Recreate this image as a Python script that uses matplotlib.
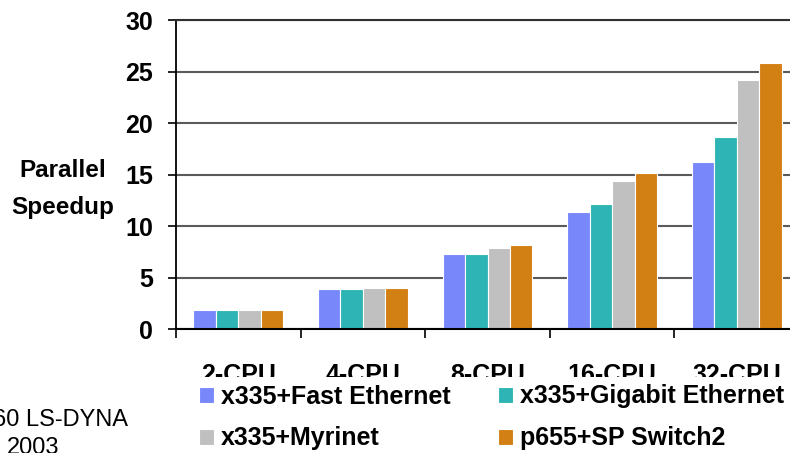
import numpy as np
import matplotlib
matplotlib.use("Agg")
import matplotlib.pyplot as plt

plt.rcParams["font.family"] = ["Liberation Sans", "DejaVu Sans"]
plt.rcParams["font.weight"] = "bold"

# ---- data ----
categories = ["2-CPU", "4-CPU", "8-CPU", "16-CPU", "32-CPU"]
series_names = ["x335+Fast Ethernet", "x335+Gigabit Ethernet",
                "x335+Myrinet", "p655+SP Switch2"]
fast_eth = [1.9, 3.9, 7.3, 11.4, 16.2]
gig_eth = [1.9, 3.9, 7.35, 12.2, 18.7]
myrinet = [1.9, 4.05, 7.9, 14.4, 24.2]
sp_switch = [1.9, 4.05, 8.15, 15.2, 25.85]
colors = ["#7888FA", "#2EB4B4", "#C0C0C0", "#D28014"]
yticks = [0, 5, 10, 15, 20, 25, 30]

W, H = 790, 453
fs = 18

fig = plt.figure(figsize=(W / 100, H / 100), dpi=100)
ax = fig.add_axes([176 / W, 1 - 329.3 / H, 623 / W, 309.3 / H])

x = np.arange(len(categories)) + 0.5
bw = 0.18
bars = []
for i, (vals, c) in enumerate(zip([fast_eth, gig_eth, myrinet, sp_switch], colors)):
    b = ax.bar(x + (i - 1.5) * bw, vals, bw, color=c, edgecolor="white",
               linewidth=0.8, label=series_names[i], zorder=2)
    bars.append(b)

ax.set_xlim(0, len(categories))
ax.set_ylim(0, 30)

# grid and spines
ax.set_axisbelow(True)
ax.yaxis.grid(True, color="#5a5a5a", linewidth=1.5)
ax.spines["right"].set_visible(False)
ax.spines["top"].set_color("#303030")
ax.spines["top"].set_linewidth(1.5)
ax.spines["left"].set_linewidth(1.3)
ax.spines["bottom"].set_linewidth(1.5)

ax.set_yticks(yticks)
ax.tick_params(axis="y", length=5.8, width=1.2, pad=10.8, labelsize=fs)

ax.set_xticks(x, categories)
ax.set_xticks(np.arange(len(categories) + 1), minor=True)
ax.tick_params(axis="x", which="major", length=0, pad=24, labelsize=fs)
ax.tick_params(axis="x", which="minor", length=6.5, width=1.2)

# axis title
fig.text(63 / W, 1 - 177 / H, "Parallel", ha="center", va="baseline", fontsize=17.5)
fig.text(63 / W, 1 - 214 / H, "Speedup", ha="center", va="baseline", fontsize=17.5)

# cut-off notes at bottom left
fig.text(-7 / W, 1 - 426 / H, "60 LS-DYNA", ha="left", va="baseline",
         fontsize=17, fontweight="normal")
fig.text(7 / W, 1 - 454 / H, "2003", ha="left", va="baseline",
         fontsize=17, fontweight="normal")

# legend fills column by column, so reorder to get two rows
order = [0, 2, 1, 3]
leg = fig.legend(handles=[bars[i] for i in order],
                 labels=[series_names[i] for i in order], loc="upper left",
                 bbox_to_anchor=(191.7 / W, 1 - 377 / H), ncol=2,
                 fontsize=fs, frameon=True, fancybox=False, framealpha=1,
                 facecolor="white", edgecolor="none", borderpad=0.3,
                 borderaxespad=0, handlelength=0.58, handleheight=0.6,
                 handletextpad=0.29, columnspacing=1.9, labelspacing=0.72)

fig.savefig("out.png", dpi=100)
